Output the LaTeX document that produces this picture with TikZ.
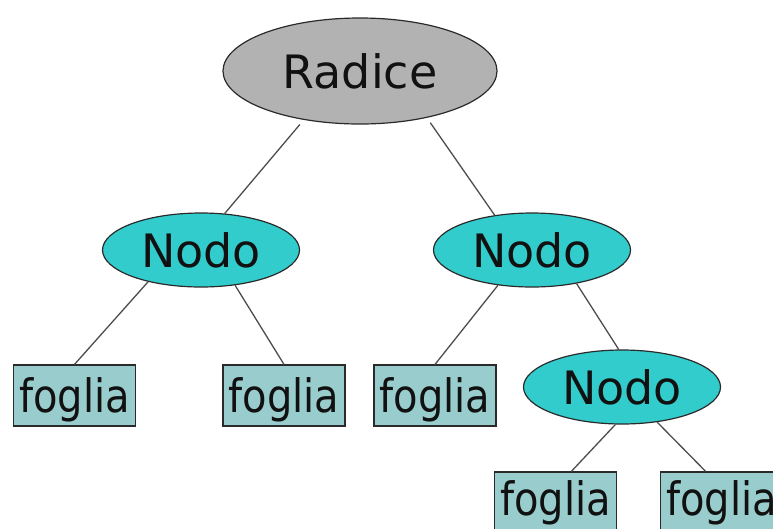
\documentclass[tikz,border=0pt]{standalone}
\usepackage{fontspec}
\setmainfont{DejaVu Sans}
\newfontfamily\leaffont[FakeStretch=0.87]{DejaVu Sans}
\usetikzlibrary{shapes.geometric}

\definecolor{rootgray}{HTML}{B2B2B2}
\definecolor{nodeteal}{HTML}{33CCCC}
\definecolor{leafteal}{HTML}{99CCCC}
\definecolor{edgegray}{HTML}{4D4D4D}
\definecolor{outline}{HTML}{2A2A2A}
\definecolor{inktext}{HTML}{111111}

\tikzset{
  rootnode/.style={ellipse, draw=outline, line width=1.2pt, fill=rootgray,
    minimum width=274pt, minimum height=106pt, inner sep=0pt,
    text=inktext, font=\fontsize{46}{55}\selectfont},
  treenode/.style={ellipse, draw=outline, line width=1.2pt, fill=nodeteal,
    minimum width=197pt, minimum height=74pt, inner sep=0pt,
    text=inktext, font=\fontsize{46}{55}\selectfont},
  leafnode/.style={rectangle, draw=outline, line width=1.2pt, fill=leafteal,
    minimum width=122pt, minimum height=61pt, inner sep=0pt, text depth=0pt,
    text=inktext, font=\leaffont\fontsize{46}{55}\selectfont},
  lowleaf/.style={leafnode, text height=25pt},
  branch/.style={draw=edgegray, line width=1.3pt},
}

\begin{document}
\begin{tikzpicture}[x=1pt, y=-1pt]
  \useasboundingbox (0,0) rectangle (773,528);
  \clip (0,0) rectangle (773,528);

  % nodes
  \node[rootnode] (root) at (360,71) {Radice};
  \node[treenode] (n1) at (201,250) {Nodo};
  \node[treenode] (n2) at (532,250) {Nodo};
  \node[treenode] (n3) at (622,387) {Nodo};

  \node[leafnode] (f1) at (74.5,395.5) {foglia};
  \node[leafnode] (f2) at (284,395.5) {foglia};
  \node[leafnode] (f3) at (435,395.5) {foglia};
  \node[lowleaf] (f4) at (555.5,502.5) {foglia};
  \node[lowleaf] (f5) at (721.5,502.5) {foglia};

  % branches
  \draw[branch, shorten <=6pt] (root.221) -- (n1.57);
  \draw[branch, shorten <=6pt] (root.325) -- (n2.137);
  \draw[branch] (n1.211) -- (f1.north);
  \draw[branch] (n1.314) -- (f2.north);
  \draw[branch] (n2.226) -- (f3.north);
  \draw[branch] (n2.323) -- (n3.95);
  \draw[branch] (n3.260) -- (f4.63);
  \draw[branch] (n3.315) -- (f5.117);
\end{tikzpicture}
\end{document}
